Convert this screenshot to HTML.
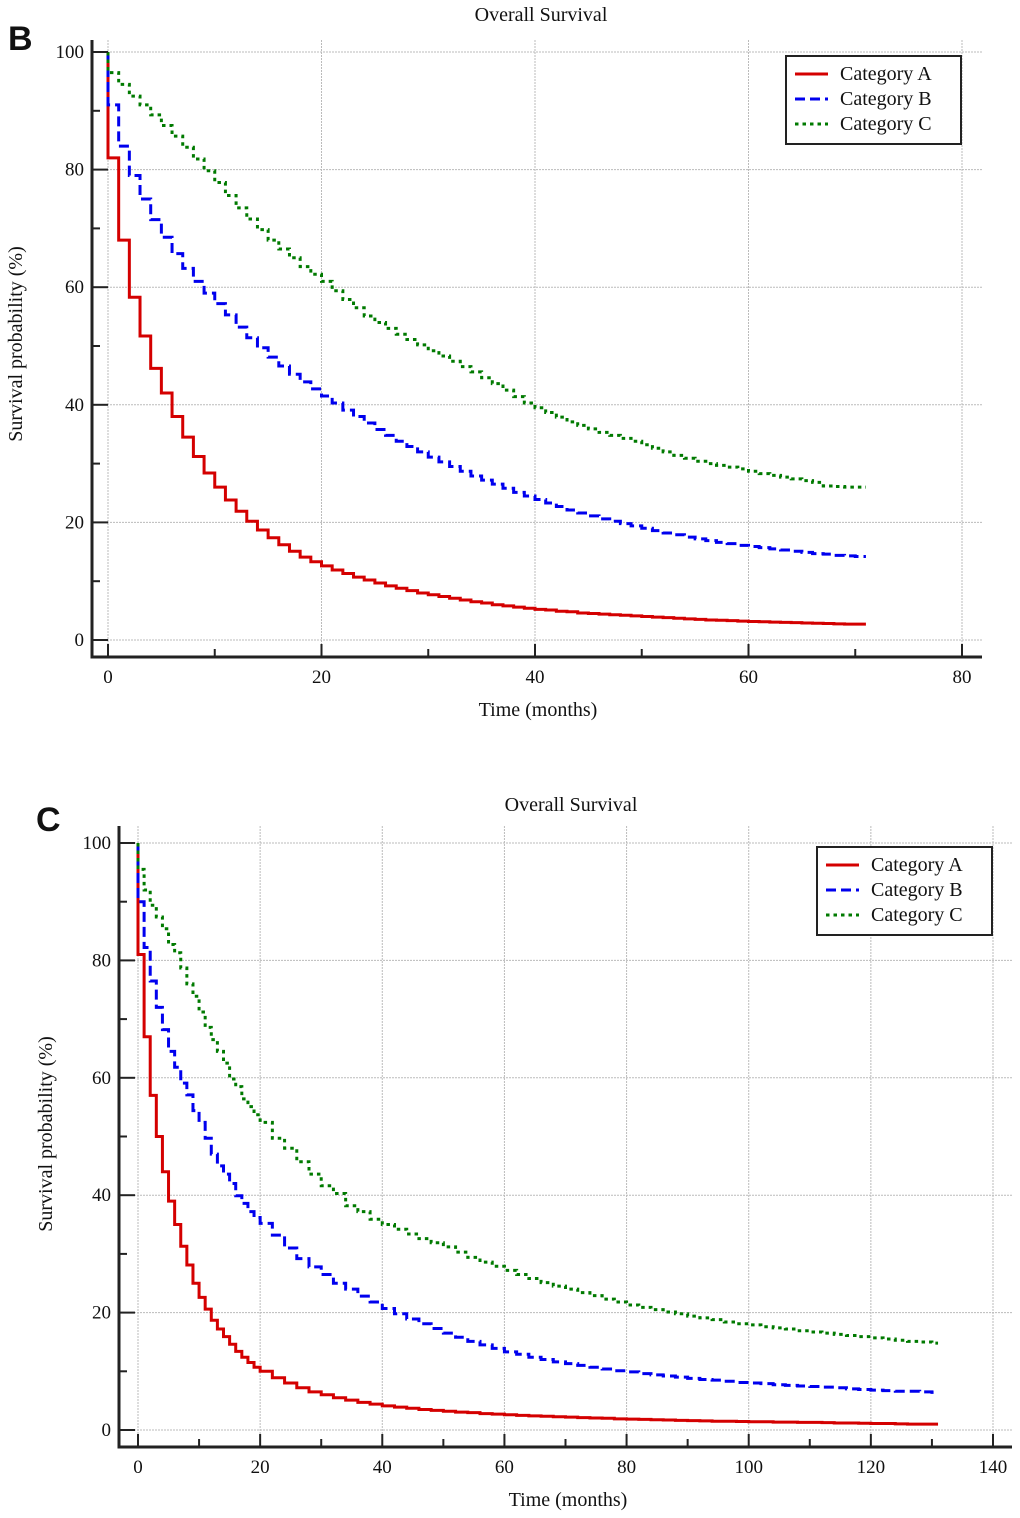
<!DOCTYPE html>
<html><head><meta charset="utf-8"><style>
html,body{margin:0;padding:0;background:#fff;}
svg{display:block;}
text{font-family:"Liberation Serif",serif;fill:#111;}
</style></head><body>
<svg id="fig" width="1020" height="1518" viewBox="0 0 1020 1518" xmlns="http://www.w3.org/2000/svg"></svg>
<script>
// ---- Panel B data ----
const bEnd = 71;
const bTimes = Array.from({length:71},(_,i)=>i);
const bRed = [82,68,58.3,51.7,46.2,42,38,34.5,31.2,28.4,26,23.8,21.9,20.2,18.7,17.4,16.2,15.1,14.1,13.3,12.6,11.9,11.3,10.7,10.2,9.7,9.2,8.8,8.4,8.0,7.7,7.4,7.1,6.8,6.5,6.3,6.0,5.8,5.6,5.4,5.2,5.1,4.9,4.8,4.6,4.5,4.4,4.3,4.2,4.1,4.0,3.9,3.8,3.7,3.6,3.5,3.4,3.35,3.3,3.2,3.15,3.1,3.05,3.0,2.95,2.9,2.85,2.8,2.75,2.7,2.7];
const bBlue = [91,84,79,75,71.5,68.5,65.7,63.2,61,59,57.2,55.3,53.2,51.4,49.7,48.1,46.6,45.2,43.9,42.7,41.5,40.3,39.1,38,36.9,35.8,34.8,33.8,32.9,32,31.1,30.3,29.5,28.7,27.9,27.2,26.5,25.8,25.1,24.5,23.9,23.3,22.7,22.1,21.6,21.1,20.6,20.2,19.8,19.4,19.0,18.6,18.2,17.9,17.5,17.2,16.9,16.6,16.4,16.1,15.9,15.7,15.5,15.3,15.1,14.9,14.7,14.6,14.4,14.3,14.2];
const bGreen = [96.5,94.5,92.5,91,89.3,87.5,85.7,83.8,81.8,79.8,77.8,75.6,73.5,71.6,69.8,68,66.5,65,63.5,62.2,61,59.4,57.9,56.5,55.1,54,53,52,51.1,50.2,49.2,48.3,47.4,46.5,45.6,44.6,43.6,42.5,41.4,40.3,39.5,38.7,37.9,37.1,36.5,35.9,35.3,34.8,34.3,33.8,33.2,32.6,32,31.4,30.9,30.4,30,29.7,29.4,29.1,28.7,28.3,28,27.7,27.4,27.1,26.8,26.2,26.1,26,26];
const bXTicks = [0,20,40,60,80];
const yTicks = [0,20,40,60,80,100];
// ---- Panel C data ----
const cEnd = 131;
const cTimes = [0,1,2,3,4,5,6,7,8,9,10,11,12,13,14,15,16,17,18,19,20,22,24,26,28,30,32,34,36,38,40,42,44,46,48,50,52,54,56,58,60,62,64,66,68,70,72,74,76,78,80,82,84,86,88,90,92,94,96,98,100,102,104,106,108,110,112,114,116,118,120,122,124,126,128,130];
const cRed = [81,67,57,50,44,39,35,31.3,28.1,25,22.6,20.6,18.7,17.2,15.9,14.6,13.4,12.4,11.5,10.7,10,8.9,8,7.2,6.5,6.0,5.5,5.1,4.7,4.4,4.1,3.9,3.7,3.5,3.35,3.2,3.05,2.95,2.8,2.7,2.6,2.5,2.4,2.35,2.25,2.2,2.1,2.05,2.0,1.9,1.85,1.8,1.75,1.7,1.65,1.6,1.55,1.5,1.5,1.45,1.4,1.4,1.35,1.35,1.3,1.3,1.25,1.2,1.2,1.15,1.1,1.1,1.05,1.0,1.0,1.0];
const cBlue = [90,82.2,76.5,72,68.2,64.5,61.8,59.1,57.1,54.4,52.4,49.7,47,45,43.6,42,39.9,38.6,37.2,36.2,35.2,33.2,31,29.2,27.8,26.5,25,24,22.8,21.8,20.7,19.8,18.9,18.1,17.3,16.5,15.8,15.1,14.5,13.9,13.3,12.9,12.4,12.0,11.6,11.3,11.0,10.7,10.4,10.1,9.9,9.6,9.4,9.2,9.0,8.8,8.6,8.5,8.3,8.1,8.0,7.9,7.7,7.6,7.5,7.4,7.3,7.2,7.0,6.9,6.8,6.7,6.6,6.6,6.5,6.4];
const cGreen = [95.5,92,89.4,87.4,85.4,82.7,81.3,78.7,76,73.9,71.2,68.6,66.5,64.5,62.5,59.8,58.5,56.4,55.1,53.7,52.4,49.7,48,45.7,43.6,41.6,40.3,38.2,37.2,35.9,35,34.2,33.4,32.6,31.9,31.2,30.3,29.4,28.6,27.9,27.2,26.5,25.8,25.1,24.5,24,23.4,22.9,22.3,21.8,21.3,20.9,20.5,20.1,19.8,19.4,19.1,18.8,18.4,18.1,17.9,17.6,17.4,17.2,16.9,16.7,16.5,16.3,16.1,15.9,15.7,15.5,15.3,15.1,15.0,14.8];
const cXTicks = [0,20,40,60,80,100,120,140];
const seriesNames = ["Category A","Category B","Category C"];

const NS="http://www.w3.org/2000/svg";
const svg=document.getElementById('fig');
function mk(tag,attrs,parent){const e=document.createElementNS(NS,tag);for(const k in attrs)e.setAttribute(k,attrs[k]);(parent||svg).appendChild(e);return e;}

function panel(p){
  const g=mk('g',{});
  
  
  const X=v=>p.x0+(v-0)*(p.x1-p.x0)/p.xmax;
  const Y=v=>p.y0+(100-v)*(p.y1-p.y0)/100;
  yTicks.forEach(v=>{const l=mk('line',{x1:p.axL,x2:p.right,y1:Y(v),y2:Y(v),stroke:'#bbb','stroke-width':1,'stroke-dasharray':'2,1'},g);
    });
  p.xt.forEach(v=>{const l=mk('line',{x1:X(v),x2:X(v),y1:p.top,y2:p.axB,stroke:'#bbb','stroke-width':1,'stroke-dasharray':'2,1'},g);
    });
  const cols=['#d40000','#0000ee','#007a00'];
  const dash=['none','10,5','3.5,4'];
  p.series.forEach((s,si)=>{
    let d='M'+X(0)+','+Y(100)+' L'+X(0)+','+Y(s[0]);
    for(let i=1;i<p.times.length;i++){d+=' L'+X(p.times[i])+','+Y(s[i-1])+' L'+X(p.times[i])+','+Y(s[i]);}
    d+=' L'+X(p.end)+','+Y(s[s.length-1]);
    const path=mk('path',{d:d,fill:'none',stroke:cols[si],'stroke-width':3,'stroke-dasharray':dash[si]},g);
    
    
  });
  const ax=mk('path',{d:`M${p.axL},${p.top} L${p.axL},${p.axB} L${p.right},${p.axB}`,fill:'none',stroke:'#222','stroke-width':3},g);
  
  for(let v=0;v<=100;v+=10){const major=v%20===0;
    const t=mk('line',{x1:p.axL,x2:p.axL+(major?16:8),y1:Y(v),y2:Y(v),stroke:'#222','stroke-width':2},g);
    
    if(major){const tx=mk('text',{x:p.axL-8,y:Y(v)+6,'text-anchor':'end','font-size':19},g);tx.textContent=v;
      }}
  const step=(p.xt[1]-p.xt[0])/2;
  for(let v=0;v<=p.xt[p.xt.length-1];v+=step){const major=Math.abs(v/(2*step)-Math.round(v/(2*step)))<1e-6;
    const t=mk('line',{x1:X(v),x2:X(v),y1:p.axB,y2:p.axB-(major?13:8),stroke:'#222','stroke-width':2},g);
    
    if(major){const tx=mk('text',{x:X(v),y:p.axB+26,'text-anchor':'middle','font-size':19},g);tx.textContent=v;
      }}
  const ti=mk('text',{x:p.titleX,y:p.titleY,'text-anchor':'middle','font-size':20},g);ti.textContent='Overall Survival';
  
  const xl=mk('text',{x:p.xlabX,y:p.axB+59,'text-anchor':'middle','font-size':20},g);xl.textContent='Time (months)';
  
  const yl=mk('text',{x:0,y:0,'text-anchor':'middle','font-size':20,transform:`translate(${p.ylabX},${p.ylabY}) rotate(-90)`},g);yl.textContent='Survival probability (%)';
  
  const pl=mk('text',{x:p.letterX,y:p.letterY,'font-size':34,'font-weight':'bold',style:'font-family:"Liberation Sans",sans-serif'},g);pl.textContent=p.letter;
  
  const lg=mk('g',{},g);
  mk('rect',{x:p.lgX,y:p.lgY,width:175,height:88,fill:'#fff',stroke:'#222','stroke-width':2},lg);
  seriesNames.forEach((n,i)=>{const yy=p.lgY+18+i*25;
    const e=mk('g',{},lg);
    mk('line',{x1:p.lgX+9,x2:p.lgX+42,y1:yy,y2:yy,stroke:cols[i],'stroke-width':3,'stroke-dasharray':dash[i]},e);
    const t=mk('text',{x:p.lgX+54,y:yy+6,'font-size':20},e);t.textContent=n;});
}
panel({id:'panel-b',letter:'B',letterX:8,letterY:50,x0:108,x1:962,xmax:80,y0:52,y1:640,axL:92,axB:657,right:982,top:40,
  xt:bXTicks,times:bTimes,end:bEnd,series:[bRed,bBlue,bGreen],titleX:541,titleY:21,xlabX:538,ylabX:22,ylabY:344,lgX:786,lgY:56});
panel({id:'panel-c',letter:'C',letterX:36,letterY:831,x0:138,x1:993,xmax:140,y0:843,y1:1430,axL:119,axB:1447,right:1012,top:826,
  xt:cXTicks,times:cTimes,end:cEnd,series:[cRed,cBlue,cGreen],titleX:571,titleY:811,xlabX:568,ylabX:52,ylabY:1134,lgX:817,lgY:847});
</script>
</body></html>
